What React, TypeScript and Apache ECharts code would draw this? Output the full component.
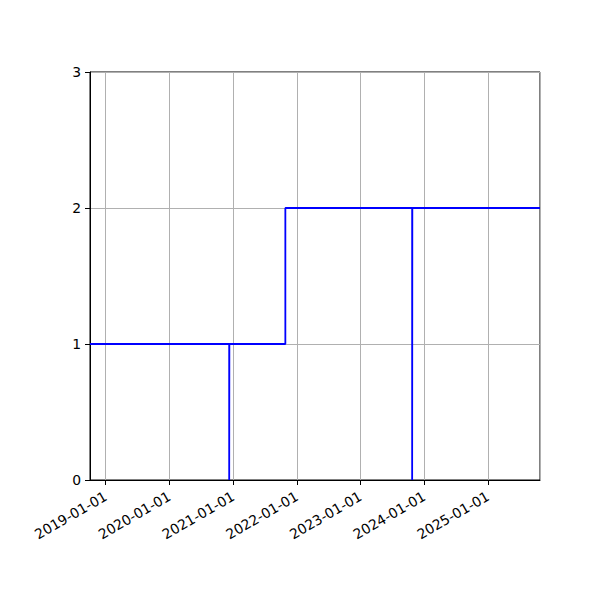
import React, { useEffect, useRef } from "react";
import * as echarts from "echarts";

// Step data (drawn with step: 'end', i.e. value holds until the next date)
const stepDates: string[] = [
  "2018-10-03",
  "2020-12-09",
  "2020-12-10",
  "2021-10-27",
  "2023-10-24",
  "2023-10-25",
  "2025-10-26",
];
const stepValues: number[] = [1, 0, 1, 2, 0, 2, 2];

const xMin = "2018-10-03";
const xMax = "2025-10-26";
const yTicks: number[] = [0, 1, 2, 3];

const FONT = "DejaVu Sans";
const FS = 13.9;

export default function App() {
  const ref = useRef<HTMLDivElement>(null);
  useEffect(() => {
    if (!ref.current) return;
    const chart = echarts.init(ref.current, undefined, { renderer: "svg" });
    const data = stepDates.map((d, i) => [d, stepValues[i]]);
    chart.setOption({
      animation: false,
      useUTC: true,
      backgroundColor: "#ffffff",
      textStyle: { fontFamily: FONT },
      grid: {
        left: 90,
        top: 72,
        right: 60,
        bottom: 120,
        show: true,
        borderColor: "#000000",
        borderWidth: 1,
        backgroundColor: "transparent",
        outerBoundsMode: "none",
      },
      xAxis: {
        type: "time",
        min: xMin,
        max: xMax,
        splitNumber: 7,
        minInterval: 365 * 24 * 3600 * 1000,
        maxInterval: 366 * 24 * 3600 * 1000,
        axisLine: { show: true, lineStyle: { color: "#000000", width: 1 } },
        axisTick: { show: true, length: 5, lineStyle: { color: "#000000", width: 1 } },
        axisLabel: {
          rotate: 30,
          margin: 15,
          fontSize: FS,
          fontFamily: FONT,
          color: "#000000",
          formatter: "{yyyy}-{MM}-{dd}",
          showMinLabel: false,
          showMaxLabel: false,
          hideOverlap: false,
        },
        splitLine: { show: true, lineStyle: { color: "#b0b0b0", width: 1 } },
      },
      yAxis: {
        type: "value",
        min: yTicks[0],
        max: yTicks[yTicks.length - 1],
        interval: 1,
        axisLine: { show: true, lineStyle: { color: "#000000", width: 1 } },
        axisTick: { show: true, length: 5, lineStyle: { color: "#000000", width: 1 } },
        axisLabel: {
          margin: 9,
          fontSize: FS,
          fontFamily: FONT,
          color: "#000000",
        },
        splitLine: { show: true, lineStyle: { color: "#b0b0b0", width: 1 } },
      },
      series: [
        {
          type: "line",
          step: "end",
          data,
          showSymbol: false,
          symbol: "none",
          lineStyle: { color: "#0000ff", width: 1.8 },
          itemStyle: { color: "#0000ff" },
        },
      ],
    });
    return () => chart.dispose();
  }, []);
  return (
    <div
      ref={ref}
      style={{ position: "fixed", left: 0, top: 0, width: 600, height: 600 }}
    />
  );
}
